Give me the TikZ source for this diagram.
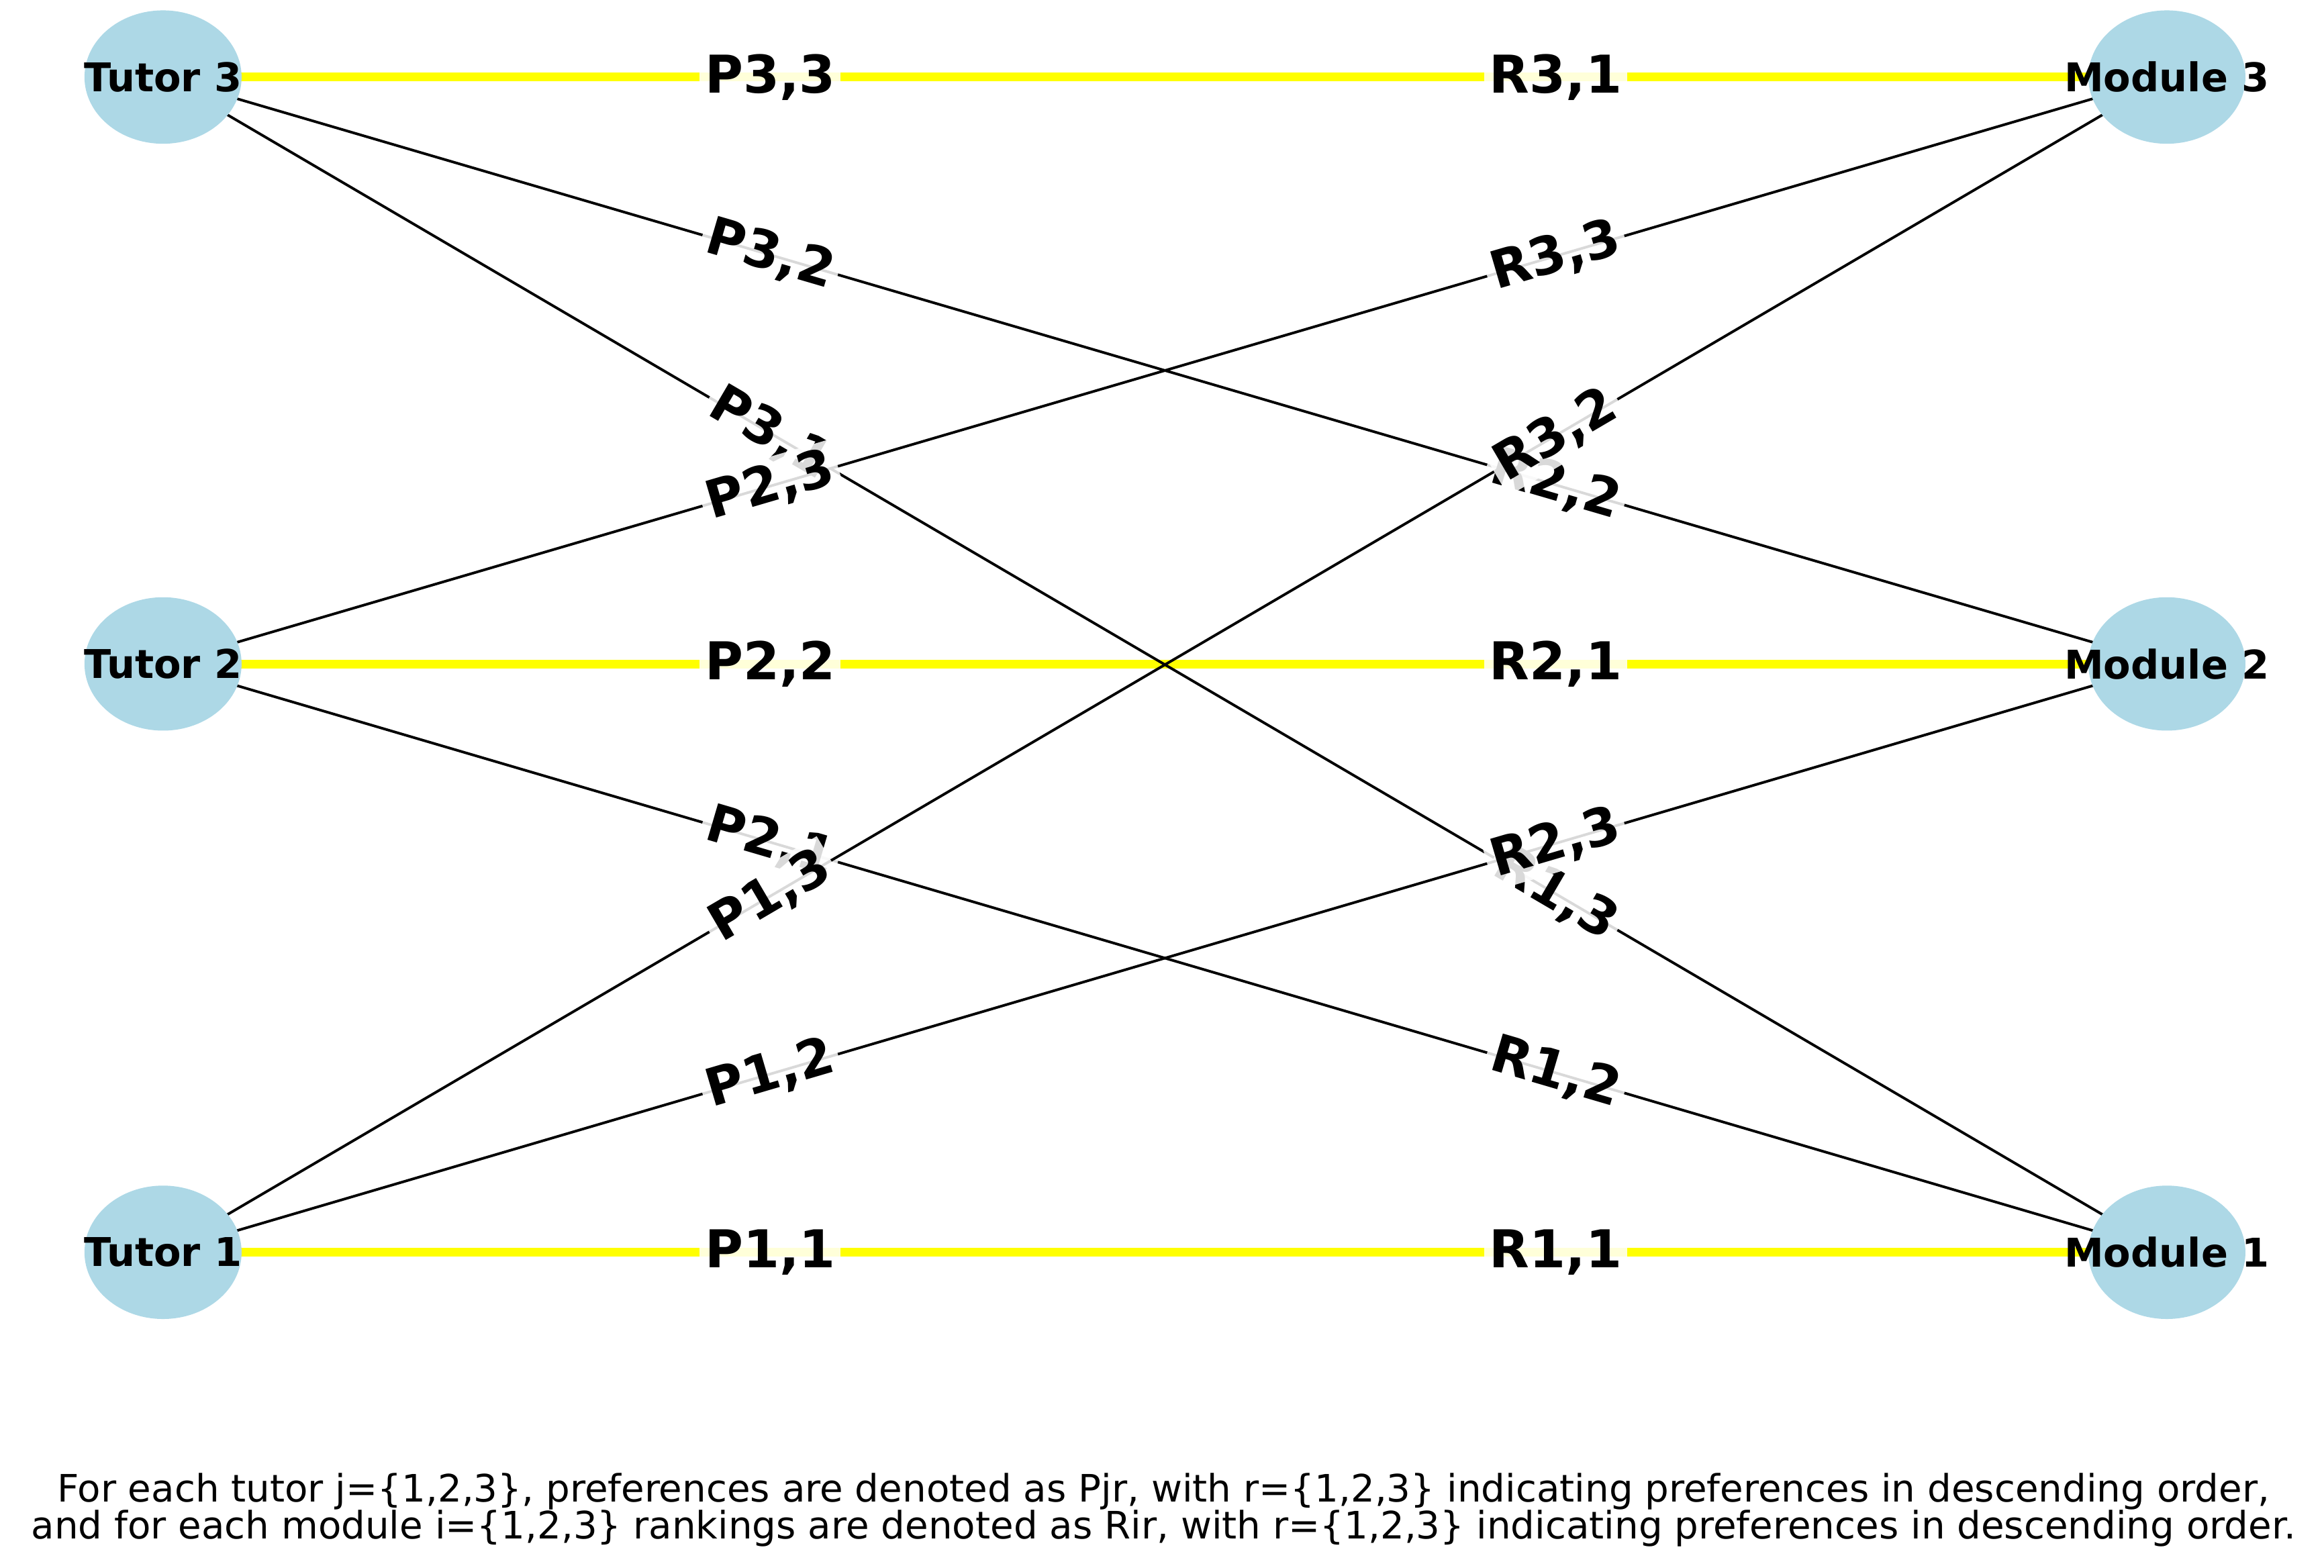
\documentclass[tikz,border=0pt]{standalone}
\usepackage{fontspec}
\setmainfont{DejaVu Sans}
\begin{document}
\begin{tikzpicture}[x=0.01cm,y=-0.01cm,
  ntext/.style={font=\fontsize{7.6}{8}\selectfont\bfseries,text=black},
  elab/.style={font=\fontsize{10}{10}\selectfont\bfseries,text=black,fill=white,fill opacity=0.85,text opacity=1,inner sep=1pt,sloped},
  plain/.style={black,line width=0.5pt},
  match/.style={yellow,line width=1.7pt}]
\definecolor{lb}{HTML}{ADD8E6}
\definecolor{yellow}{HTML}{FFFF00}
\useasboundingbox (0,0) rectangle (1568,1058);
\foreach \n/\x/\y in {t3/110/52,t2/110/448,t1/110/845,m3/1462/52,m2/1462/448,m1/1462/845}{
  \coordinate (\n) at (\x,\y);
}
% edges
\draw[match] (t3) -- node[elab,pos=0.303]{P3,3} node[elab,pos=0.695]{R3,1} (m3);
\draw[match] (t2) -- node[elab,pos=0.303]{P2,2} node[elab,pos=0.695]{R2,1} (m2);
\draw[match] (t1) -- node[elab,pos=0.303]{P1,1} node[elab,pos=0.695]{R1,1} (m1);
\draw[plain] (t3) -- node[elab,pos=0.303]{P3,2} node[elab,pos=0.695]{R2,2} (m2);
\draw[plain] (t3) -- node[elab,pos=0.303]{P3,1} node[elab,pos=0.695]{R1,3} (m1);
\draw[plain] (t2) -- node[elab,pos=0.303]{P2,3} node[elab,pos=0.695]{R3,3} (m3);
\draw[plain] (t2) -- node[elab,pos=0.303]{P2,1} node[elab,pos=0.695]{R1,2} (m1);
\draw[plain] (t1) -- node[elab,pos=0.303]{P1,3} node[elab,pos=0.695]{R3,2} (m3);
\draw[plain] (t1) -- node[elab,pos=0.303]{P1,2} node[elab,pos=0.695]{R2,3} (m2);
\foreach \n in {t1,t2,t3,m1,m2,m3}{
  \fill[lb] (\n) ellipse [x radius=53, y radius=45];
}
% node texts
\node[ntext] (lt3) at (t3) {Tutor 3};
\node[ntext] (lt2) at (t2) {Tutor 2};
\node[ntext] (lt1) at (t1) {Tutor 1};
\node[ntext] (lm3) at (m3) {Module 3};
\node[ntext] (lm2) at (m2) {Module 2};
\node[ntext] (lm1) at (m1) {Module 1};
\node[font=\fontsize{7.25}{7.1}\selectfont,align=center] (cap) at (785,1019)
 {For each tutor j=\{1,2,3\}, preferences are denoted as Pjr, with r=\{1,2,3\} indicating preferences in descending order,\\
  and for each module i=\{1,2,3\} rankings are denoted as Rir, with r=\{1,2,3\} indicating preferences in descending order.};
\end{tikzpicture}
\end{document}
